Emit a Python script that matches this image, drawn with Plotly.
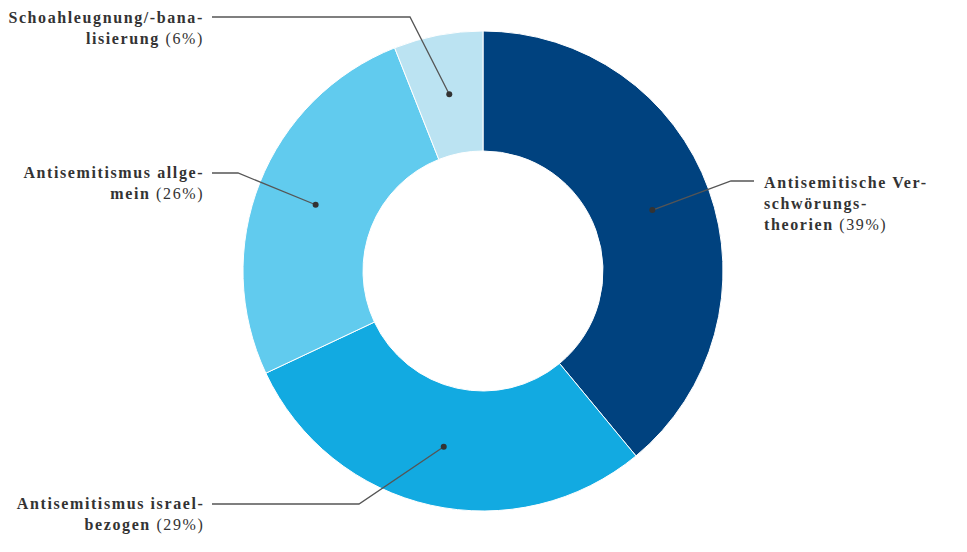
import math
import plotly.graph_objects as go

categories = ["Antisemitische Verschwörungstheorien", "Antisemitismus israelbezogen",
              "Antisemitismus allgemein", "Schoahleugnung/-banalisierung"]
values = [39, 29, 26, 6]
label_lines = [["Antisemitische Ver-", "schwörungs-", "theorien"],
               ["Antisemitismus israel-", "bezogen"],
               ["Antisemitismus allge-", "mein"],
               ["Schoahleugnung/-bana-", "lisierung"]]
colors = ["#00427F", "#12AAE1", "#61CBEE", "#BBE3F2"]

W, H = 967, 552
CX, CY, R_OUT, HOLE = 483, 271, 240, 0.5

# label layout (pixel positions): (label x, label mid y, elbow x, elbow y, horizontal end x, side)
layout_pos = [
    (762, 204, 731, 181, 754, "left"),
    (206, 514, 359, 504, 212, "right"),
    (206, 184, 238, 173, 212, "right"),
    (206, 28, 410, 17, 212, "right"),
]

def px(x):
    return x / W

def py(y):
    return 1 - y / H

FONT = "Liberation Serif, Times New Roman, DejaVu Serif, serif"

fig = go.Figure()
fig.add_trace(go.Pie(
    labels=categories, values=values, hole=HOLE, sort=False, direction="clockwise",
    rotation=0, marker=dict(colors=colors, line=dict(color="white", width=1)),
    textinfo="none", hoverinfo="label+percent", showlegend=False,
    domain=dict(x=[px(CX - R_OUT), px(CX + R_OUT)], y=[py(CY + R_OUT), py(CY - R_OUT)]),
))

total = sum(values)
cum = 0
shapes = []
annotations = []
r_mid = R_OUT * (1 + HOLE) / 2
for v, lines, pos in zip(values, label_lines, layout_pos):
    mid = (cum + v / 2) / total * 2 * math.pi
    cum += v
    dx = CX + r_mid * math.sin(mid)
    dy = CY - r_mid * math.cos(mid)
    lx, ly, ex, ey, hx, side = pos
    path = f"M {px(dx)} {py(dy)} L {px(ex)} {py(ey)} L {px(hx)} {py(ey)}"
    shapes.append(dict(type="path", xref="paper", yref="paper", path=path,
                       line=dict(color="#555555", width=1.3), layer="above"))
    rr = 3
    shapes.append(dict(type="circle", xref="paper", yref="paper",
                       x0=px(dx - rr), x1=px(dx + rr), y0=py(dy - rr), y1=py(dy + rr),
                       fillcolor="#333333", line=dict(width=0), layer="above"))
    txt = "<br>".join(f"<b>{l}</b>" for l in lines[:-1])
    txt += ("<br>" if len(lines) > 1 else "") + f"<b>{lines[-1]}</b> ({v}%)"
    annotations.append(dict(
        x=px(lx), y=py(ly), xref="paper", yref="paper", text=txt, showarrow=False,
        xanchor="left" if side == "left" else "right", yanchor="middle",
        align="left" if side == "left" else "right",
        font=dict(family=FONT, size=16, color="#333333"),
    ))

fig.update_layout(
    width=W, height=H, margin=dict(l=0, r=0, t=0, b=0),
    paper_bgcolor="white", plot_bgcolor="white",
    font=dict(family=FONT),
    shapes=shapes, annotations=annotations,
)

post = """
document.body.style.margin='0';
function spaceOut(){document.querySelectorAll('.annotation-text').forEach(function(e){e.style.letterSpacing='1.6px';});}
spaceOut();
var gd=document.getElementById('{plot_id}');
if(gd && gd.on){gd.on('plotly_afterplot', spaceOut);}
setTimeout(spaceOut, 50);
"""
fig.write_html("out.html", post_script=post, config={"displayModeBar": False})
